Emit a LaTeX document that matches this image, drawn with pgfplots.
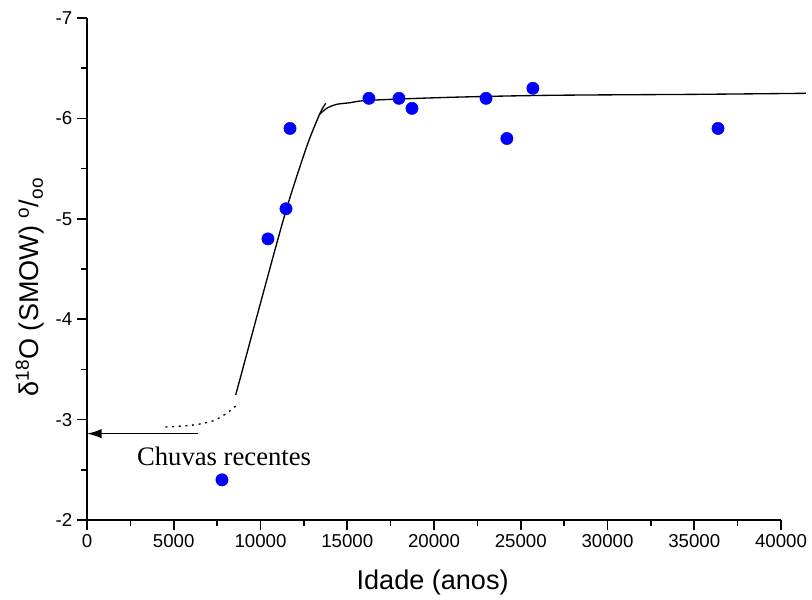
\documentclass[border=0pt]{standalone}
\usepackage{pgfplots}
\pgfplotsset{compat=1.18}
\usepackage{fontspec}
\setmainfont{Liberation Sans}
\newfontfamily\timesfont{Liberation Serif}
\usetikzlibrary{arrows.meta}
\begin{document}
\begin{tikzpicture}
\useasboundingbox (-65.25pt,-59.25pt) rectangle (543.75pt,390pt);
\begin{axis}[
  at={(0,0)}, anchor=south west,
  scale only axis, width=520.5pt, height=376.5pt,
  xmin=0, xmax=40000, ymin=-7, ymax=-2,
  y dir=reverse,
  axis x line*=bottom, axis y line*=left,
  axis line style={line width=1.2pt},
  every tick/.style={black, line width=1.2pt},
  tick align=outside,
  major tick length=7.5pt, minor tick length=4.5pt,
  xtick={0,5000,10000,15000,20000,25000,30000,35000,40000},
  xticklabels={0,5000,10000,15000,20000,25000,30000,35000,40000},
  minor x tick num=1,
  ytick={-7,-6,-5,-4,-3,-2},
  yticklabels={-7,-6,-5,-4,-3,-2},
  minor y tick num=1,
  scaled x ticks=false,
  ticklabel style={font=\fontsize{14}{16}\selectfont},
  xlabel={Idade (anos)},
  ylabel={δ\textsuperscript{18}O (SMOW) \textsuperscript{o}/\textsubscript{oo}},
  label style={font=\fontsize{20.3}{24}\selectfont},
  xlabel style={at={(axis description cs:0.498,0)}, anchor=center, yshift=-46.5pt},
  ylabel style={at={(axis description cs:0,0.464)}, anchor=center, rotate=0, yshift=42.75pt},
  clip=false,
]
\addplot[only marks, mark=*, mark size=4.6pt, color=blue, mark options={fill=blue, draw=blue}] coordinates {
  (7780,-2.40) (10430,-4.8) (11470,-5.1) (11700,-5.9) (16250,-6.2) (17980,-6.2)
  (18730,-6.1) (23000,-6.2) (24200,-5.8) (25700,-6.3) (36370,-5.9)
};
\addplot[black, line width=1pt, smooth] coordinates {
  (8570,-3.245) (10360,-4.39) (11510,-5.105) (12660,-5.718) (13430,-6.05) (13760,-6.15)
};
\addplot[black, line width=1pt, smooth] coordinates {
  (13370,-6.034) (13810,-6.10) (14390,-6.14) (15160,-6.156) (16250,-6.18)
  (20920,-6.21) (26690,-6.23) (35330,-6.24) (41440,-6.25)
};
\addplot[black, line width=1pt, dash pattern=on 1.5pt off 3.5pt, smooth] coordinates {
  (8570,-3.135) (8050,-3.063) (7280,-2.989) (6130,-2.946) (4460,-2.926)
};
\draw[black, line width=1pt, -{Latex[length=11pt,width=7pt]}] (axis cs:6410,-2.86) -- (axis cs:0,-2.86);
\node[font=\timesfont\fontsize{20}{24}\selectfont, anchor=center] at (axis cs:7900,-2.635) {Chuvas recentes};
\end{axis}
\end{tikzpicture}
\end{document}
